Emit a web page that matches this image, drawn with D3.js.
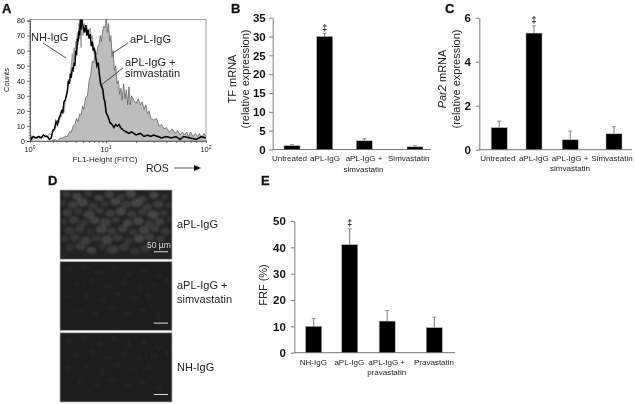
<!DOCTYPE html>
<html>
<head>
<meta charset="utf-8">
<title>aPL-IgG panels</title>
<style>
  html, body { margin: 0; padding: 0; background: #fff; }
  svg { display: block; filter: blur(0.35px); }
  text { font-family: "Liberation Sans", Arial, sans-serif; fill: #222; }
  .tick-bold text, .bold { font-weight: bold; fill: #111; }
  .leader { stroke: #222; stroke-width: 0.8; fill: none; }
  .domain, .tick line { stroke: #555; stroke-width: 0.8; }
</style>
<script src="https://d3js.org/d3.v7.min.js"></script>
</head>
<body>
<div id="chart"></div>
<script>

// ##### data #####

// panel A, flow cytometry histograms (FL1 value, counts)
var aplFl1 = [1.9,2.1,2.3,2.5,2.7,2.9,3.1,3.3,3.5,3.7,3.9,4.1,4.3,4.5,4.7,4.9,5.1,5.4,5.7,6,6.3,6.6,6.9,7.2,7.5,7.8,8.1,8.4,8.7,9,9.3,9.6,9.9,10,10.3,10.6,10.9,11.2,11.5,11.8,12.1,12.5,12.9,13.3,13.7,14.1,14.5,15,15.5,16,16.5,17,17.5,18,19,20,21,22,23,24,25,26,27,28,30,32,34,36,38,40,43,46,49,52,55,58,61,64,67,70,74,78,82,86,90,95,100];
var aplCounts = [0,1,0,2,2,3,3,6,6,10,11,15,13,18,17,23,21,29,30,40,44,53,52,60,57,63,64,70,66,72,76,75,78,88,72,78,66,70,56,60,47,50,38,40,31,35,27,38,28,34,24,36,24,30,27,25,28,24,26,21,24,18,20,15,14,15,10,11,8,9,6,8,5,7,4,6,4,6,3,6,3,5,3,5,2,5,3];

var nhFl1 = [1,1.1,1.2,1.3,1.4,1.5,1.6,1.7,1.8,1.9,2,2.1,2.2,2.3,2.4,2.5,2.6,2.7,2.8,2.9,3,3.1,3.2,3.3,3.4,3.5,3.6,3.7,3.8,3.9,4,4.1,4.2,4.3,4.4,4.5,4.6,4.7,4.8,4.9,5,5.2,5.4,5.6,5.8,6,6.2,6.4,6.6,6.8,7,7.3,7.6,7.9,8.2,8.5,8.8,9.1,9.4,9.7,10,10.5,11,11.5,12,13,14,15,16,18,20,23,26,30,35,40,50,60,70,85,100];
var nhCounts = [3,1,2,1,3,2,4,3,5,4,6,7,10,14,12,17,16,21,19,26,30,33,41,38,46,50,58,48,62,54,66,60,72,64,78,68,74,62,80,76,70,78,74,77,70,72,75,68,70,62,58,56,48,50,42,38,34,30,26,24,20,16,13,11,9,10,8,6,5,6,4,5,3,4,2,3,2,3,1,2,2];

var simFl1 = [1,1.04,1.1,1.2,1.3,1.4,1.5,1.6,1.7,1.8,1.9,2,2.1,2.2,2.3,2.4,2.5,2.6,2.7,2.8,2.9,3,3.1,3.2,3.3,3.4,3.5,3.6,3.7,3.8,3.9,4,4.1,4.2,4.3,4.4,4.5,4.6,4.7,4.8,4.9,5,5.2,5.4,5.6,5.8,6,6.2,6.4,6.6,6.8,7,7.3,7.6,7.9,8.2,8.5,8.8,9.1,9.4,9.7,10,10.5,11,11.5,12,12.5,13,13.5,14,15,16,17,18,20,22,24,26,28,30,33,36,40,45,50,55,60,70,80,90,100];
var simCounts = [5,1,3,2,3,2,4,3,3,1,2,7,8,13,11,15,17,20,19,26,27,30,33,40,38,44,43,48,47,52,50,60,57,68,66,73,70,82,74,84,78,76,72,77,70,74,68,71,63,66,60,62,56,50,52,44,38,36,34,28,26,19,16,12,11,9,11,10,11,9,7,6,5,6,4,5,3,4,3,4,3,2,3,2,3,1,3,2,1,3,2];

// panel B
var catB = ["Untreated", "aPL-IgG", "aPL-IgG +", "Simvastatin"];
var tfMrna = [1.0, 30, 2.3, 0.7];
var tfErr = [0.3, 0.8, 0.6, 0.3];
var tfTicks = [0, 5, 10, 15, 20, 25, 30, 35];

// panel C
var catC = ["Untreated", "aPL-IgG", "aPL-IgG +", "Simvastatin"];
var par2Mrna = [1.0, 5.3, 0.45, 0.72];
var par2Err = [0.3, 0.33, 0.4, 0.33];
var par2Ticks = [0, 2, 4, 6];

// panel E
var catE = ["NH-IgG", "aPL-IgG", "aPL-IgG +", "Pravastatin"];
var frf = [10, 41, 12, 9.5];
var frfErr = [3, 6, 4, 4];
var frfTicks = [0, 10, 20, 30, 40, 50];

// panel D, cell nuclei seen in the micrographs (0-340 x 0-210 image units)
var cellsX = [20,52,85,118,150,185,215,250,285,318,10,38,68,100,135,168,200,232,265,298,330,22,55,88,120,152,185,218,250,282,315,12,42,72,105,138,170,205,238,270,302,332,28,60,92,125,158,190,222,255,288,320,15,45,78,110,142,175,208,240,272,305,30,62,95,128,160,195,228,260];
var cellsY = [14,20,12,24,14,22,12,28,16,22,40,46,38,50,42,36,44,40,52,44,48,70,66,76,64,72,66,74,68,76,70,98,92,102,94,100,92,102,96,104,98,92,124,120,130,122,128,120,130,124,118,128,150,146,156,148,154,148,158,150,146,152,178,174,186,176,184,176,188,180];
var cellsR = [10,12,9,11,12,10,13,11,12,9,9,12,14,11,10,13,12,14,11,13,9,12,11,14,10,12,13,12,11,14,10,9,13,11,12,14,10,12,13,11,12,8,13,12,10,14,11,12,10,13,11,12,10,12,13,11,14,12,10,13,12,11,11,13,12,10,14,12,11,13];
var cellsShade = ["#4a4a4a","#555","#454545","#505050","#4d4d4d","#484848","#585858","#4a4a4a","#555","#404040","#3e3e3e","#505050","#5a5a5a","#4c4c4c","#444","#555","#4a4a4a","#5c5c5c","#4d4d4d","#505050","#3e3e3e","#484848","#444","#555","#4a4a4a","#505050","#5a5a5a","#4c4c4c","#454545","#5c5c5c","#484848","#3a3a3a","#4c4c4c","#444","#555","#505050","#454545","#585858","#5c5c5c","#4a4a4a","#505050","#3a3a3a","#444","#4a4a4a","#3e3e3e","#555","#4c4c4c","#505050","#444","#5a5a5a","#4d4d4d","#484848","#3e3e3e","#484848","#505050","#444","#5a5a5a","#4c4c4c","#444","#5c5c5c","#505050","#484848","#3c3c3c","#4a4a4a","#505050","#3e3e3e","#4c4c4c","#484848","#3e3e3e","#444"];
var faintX = [30,75,120,165,210,255,300,50,100,150,195,240,285,325,25,80,130,175,225,270,60,110,160,205,250,300];
var faintY = [25,18,35,20,40,30,45,70,60,78,65,80,72,60,110,105,120,100,115,108,150,160,145,165,150,170];

var panelsD = ["aPL-IgG", "aPL-IgG +", "NH-IgG"];

// ##### page #####

var svg = d3.select("#chart").append("svg")
    .attr("width", 635)
    .attr("height", 404);

function letter(s, x, y) {
  svg.append("text").attr("class", "bold")
      .attr("x", x).attr("y", y)
      .style("font-size", "13px")
      .style("stroke", "#111").style("stroke-width", 0.3)
      .style("fill", "#111")
      .text(s);
}
letter("A", 2, 13);
letter("B", 231, 13);
letter("C", 445, 13);
letter("D", 48, 185);
letter("E", 261, 185);

// ##### panel A #####

var xA = d3.scaleLog().domain([1, 10, 100]).range([30, 106, 206]);
var yA = d3.scaleLinear().domain([0, 80]).range([141, 20.5]);

var clip = svg.append("clipPath").attr("id", "frameA");
clip.append("rect").attr("x", 30).attr("y", 19).attr("width", 176).attr("height", 122);

var lineA = d3.line()
    .x(function(d) { return xA(d[0]); })
    .y(function(d) { return yA(d[1]); });

var areaA = d3.area()
    .x(function(d) { return xA(d[0]); })
    .y0(yA(0))
    .y1(function(d) { return yA(d[1]); });

var apl = d3.zip(aplFl1, aplCounts);
var nh = d3.zip(nhFl1, nhCounts);
var sim = d3.zip(simFl1, simCounts);

var gA = svg.append("g").attr("clip-path", "url(#frameA)");
gA.append("path").datum(apl).attr("fill", "#bdbdbd").attr("d", areaA);
gA.append("path").datum(apl).attr("fill", "none")
    .attr("stroke", "#555").attr("stroke-width", 0.7).attr("d", lineA);
gA.append("path").datum(nh).attr("fill", "none")
    .attr("stroke", "#999").attr("stroke-width", 1).attr("d", lineA);
gA.append("path").datum(sim).attr("fill", "none")
    .attr("stroke", "#000").attr("stroke-width", 1.5).attr("d", lineA);

// frame
svg.append("rect").attr("x", 30).attr("y", 19.5).attr("width", 176).attr("height", 121.5)
    .attr("fill", "none").attr("stroke", "#777").attr("stroke-width", 0.7);

// minor and major ticks
var minorX = [];
[1, 10].forEach(function(dec) {
  d3.range(1, 10).forEach(function(m) { minorX.push(m * dec); });
});
minorX.push(100);

svg.append("g")
    .attr("transform", "translate(0,141)")
    .call(d3.axisBottom(xA).tickValues(minorX).tickSize(2).tickFormat(""));

var axisYA = svg.append("g")
    .attr("transform", "translate(30,0)")
    .call(d3.axisLeft(yA).tickValues(d3.range(0, 81, 2)).tickSize(1.5).tickFormat(""));
axisYA.selectAll(".tick line").style("stroke-width", 0.5);

svg.append("g")
    .attr("transform", "translate(30,0)")
    .call(d3.axisLeft(yA).tickValues(d3.range(0, 81, 10)).tickSize(3).tickPadding(2))
    .call(function(g) {
      g.selectAll("text").style("font-size", "7.5px").style("font-family", "Liberation Sans").style("fill", "#222");
    });

[0, 1, 2].forEach(function(e) {
  var t = svg.append("text")
      .attr("x", xA(Math.pow(10, e)))
      .attr("y", 152)
      .attr("text-anchor", "middle")
      .style("font-size", "7.5px");
  t.append("tspan").text("10");
  t.append("tspan").attr("dy", -3).style("font-size", "5px").text(e);
});

svg.append("text")
    .attr("x", 105).attr("y", 162).attr("text-anchor", "middle")
    .style("font-size", "8px").text("FL1-Height (FITC)");

svg.append("text")
    .attr("transform", "translate(9,80) rotate(-90)")
    .attr("text-anchor", "middle")
    .style("font-size", "7.5px").text("Counts");

svg.append("text").attr("x", 146).attr("y", 172).style("font-size", "10.5px").text("ROS");
svg.append("line").attr("x1", 174).attr("x2", 195).attr("y1", 168).attr("y2", 168)
    .attr("stroke", "#444").attr("stroke-width", 0.9);
svg.append("path").attr("d", "M194,165L201,168L194,171Z").attr("fill", "#000");

// labels and their leader lines
svg.append("text").attr("x", 31).attr("y", 41).style("font-size", "11px").text("NH-IgG");
svg.append("text").attr("x", 130).attr("y", 43).style("font-size", "11px").text("aPL-IgG");
svg.append("text").attr("x", 125).attr("y", 66).style("font-size", "11px").text("aPL-IgG +");
svg.append("text").attr("x", 125).attr("y", 77).style("font-size", "11px").text("simvastatin");

svg.append("line").attr("class", "leader").attr("x1", 43).attr("y1", 43).attr("x2", 66).attr("y2", 58);
svg.append("line").attr("class", "leader").attr("x1", 128).attr("y1", 43).attr("x2", 113).attr("y2", 53);
svg.append("line").attr("class", "leader").attr("x1", 123).attr("y1", 68).attr("x2", 100).attr("y2", 86);

// ##### bar panels #####

function barPanel(o) {
  var x = d3.scaleOrdinal().domain(o.cats).range(o.centers);
  var y = d3.scaleLinear().domain(o.domain).range([o.y0, o.y1]);
  var g = svg.append("g");

  // error bars first so the bar covers the lower end
  g.selectAll(".err").data(o.values).enter().append("line")
      .attr("x1", function(d, i) { return x(o.cats[i]); })
      .attr("x2", function(d, i) { return x(o.cats[i]); })
      .attr("y1", function(d) { return y(d); })
      .attr("y2", function(d, i) { return y(d + o.errs[i]); })
      .attr("stroke", "#777").attr("stroke-width", 1);
  g.selectAll(".cap").data(o.values).enter().append("line")
      .attr("x1", function(d, i) { return x(o.cats[i]) - 2; })
      .attr("x2", function(d, i) { return x(o.cats[i]) + 2; })
      .attr("y1", function(d, i) { return y(d + o.errs[i]); })
      .attr("y2", function(d, i) { return y(d + o.errs[i]); })
      .attr("stroke", "#777").attr("stroke-width", 0.8);

  g.selectAll("rect").data(o.values).enter().append("rect")
      .attr("x", function(d, i) { return x(o.cats[i]) - 8; })
      .attr("width", 16)
      .attr("y", function(d) { return y(d); })
      .attr("height", function(d) { return y(0) - y(d); })
      .attr("fill", "#000")
      .attr("stroke", "#aaa").attr("stroke-width", 0.5);

  var axisY = d3.axisLeft(y).tickValues(o.ticks).tickSize(3.5).tickPadding(o.pad)
      .tickSizeOuter(0).tickFormat(d3.format("d"));
  g.append("g").attr("class", "tick-bold")
      .attr("transform", "translate(" + o.x0 + ",0)")
      .call(axisY)
      .call(function(a) {
        a.selectAll("text").style("font-size", o.tickFont).style("font-family", "Liberation Sans");
      });

  g.append("line")
      .attr("x1", o.x0).attr("x2", o.x1)
      .attr("y1", y(0)).attr("y2", y(0))
      .attr("stroke", "#555").attr("stroke-width", 0.8);

  // category labels, centred by hand because the spacing is uneven
  o.cats.forEach(function(c, i) {
    g.append("text")
        .attr("x", o.labelX[i]).attr("y", y(0) + o.labelDy)
        .attr("text-anchor", "middle")
        .style("font-size", "8px").text(c);
  });
  g.append("text")
      .attr("x", o.secondX).attr("y", y(0) + o.labelDy + 10.5)
      .attr("text-anchor", "middle")
      .style("font-size", "8px").text(o.second);

  // double dagger over the significant bar
  g.append("text")
      .attr("x", x(o.cats[1])).attr("y", o.daggerY)
      .attr("text-anchor", "middle")
      .style("font-size", "9px").style("font-weight", "bold").text("\u2021");

  return g;
}

barPanel({
  cats: catB, values: tfMrna, errs: tfErr, ticks: tfTicks,
  domain: [0, 35], y0: 149.5, y1: 17.7, x0: 272.7, x1: 431,
  centers: [292, 324.7, 364.3, 415],
  labelX: [289.5, 325, 364, 408.7], labelDy: 11.5,
  second: "simvastatin", secondX: 363.5, daggerY: 31,
  pad: 3.5, tickFont: "11.5px"
});

barPanel({
  cats: catC, values: par2Mrna, errs: par2Err, ticks: par2Ticks,
  domain: [0, 6], y0: 149.7, y1: 17.7, x0: 479.3, x1: 632,
  centers: [499.2, 534, 570.2, 614],
  labelX: [497.8, 533.8, 570, 612], labelDy: 11,
  second: "simvastatin", secondX: 570, daggerY: 23,
  pad: 5, tickFont: "11.5px"
});

barPanel({
  cats: catE, values: frf, errs: frfErr, ticks: frfTicks,
  domain: [0, 50], y0: 352.7, y1: 221, x0: 294.3, x1: 455,
  centers: [313.7, 349.7, 387.2, 434.3],
  labelX: [313.3, 349.3, 386.7, 434], labelDy: 12,
  second: "pravastatin", secondX: 386.7, daggerY: 226,
  pad: 5, tickFont: "11.5px"
});

// y axis titles
function yTitle(x, y, first, size) {
  var t = svg.append("text")
      .attr("transform", "translate(" + x + "," + y + ") rotate(-90)")
      .attr("text-anchor", "middle")
      .style("font-size", size);
  first(t);
}

yTitle(236, 79, function(t) { t.text("TF mRNA"); }, "11px");
yTitle(249, 79, function(t) { t.text("(relative expression)"); }, "11px");
yTitle(445.5, 79, function(t) {
  t.append("tspan").style("font-style", "italic").text("Par2");
  t.append("tspan").text(" mRNA");
}, "11px");
yTitle(460, 79, function(t) { t.text("(relative expression)"); }, "11px");
yTitle(267, 285, function(t) { t.text("FRF (%)"); }, "11px");

// ##### panel D #####

var imgX = d3.scaleLinear().domain([0, 340]).range([60, 172]);
var imgH = d3.scaleLinear().domain([0, 210]).range([0, 68]);
var panelTop = d3.scaleBand().domain(panelsD).range([190, 402]).paddingInner(0.03);

var blur = svg.append("filter").attr("id", "soft")
    .attr("x", "-20%").attr("y", "-20%").attr("width", "140%").attr("height", "140%");
blur.append("feGaussianBlur").attr("stdDeviation", 0.8);

panelsD.forEach(function(name, idx) {
  var top = panelTop(name);
  var h = panelTop.bandwidth();
  var clipId = "img" + idx;
  svg.append("clipPath").attr("id", clipId)
    .append("rect").attr("x", 60).attr("y", top).attr("width", 112).attr("height", h);

  var g = svg.append("g").attr("clip-path", "url(#" + clipId + ")");
  g.append("rect").attr("x", 60).attr("y", top).attr("width", 112).attr("height", h)
      .attr("fill", idx == 0 ? "#222" : "#1e1e1e");

  var cells = g.append("g").attr("filter", "url(#soft)");
  if (idx == 0) {
    cells.selectAll("ellipse").data(cellsX).enter().append("ellipse")
        .attr("cx", function(d) { return imgX(d); })
        .attr("cy", function(d, i) { return top + imgH(cellsY[i]); })
        .attr("rx", function(d, i) { return imgH(cellsR[i]) * 1.25; })
        .attr("ry", function(d, i) { return imgH(cellsR[i]) * 0.95; })
        .attr("fill", function(d, i) { return cellsShade[i]; })
        .attr("fill-opacity", 0.62);
  } else {
    cells.selectAll("ellipse").data(faintX).enter().append("ellipse")
        .attr("cx", function(d) { return imgX(d); })
        .attr("cy", function(d, i) { return top + imgH(faintY[i]); })
        .attr("rx", 4).attr("ry", 3)
        .attr("fill", "#232323");
  }

  // scale bar
  g.append("line")
      .attr("x1", imgX(285)).attr("x2", imgX(328))
      .attr("y1", top + h - 7.5).attr("y2", top + h - 7.5)
      .attr("stroke", "#ddd").attr("stroke-width", 1);

  svg.append("rect").attr("x", 60).attr("y", top).attr("width", 112).attr("height", h)
      .attr("fill", "none").attr("stroke", "#aaa").attr("stroke-width", 0.8);
});

var t0 = panelTop(panelsD[0]);
svg.append("text").attr("x", 147).attr("y", t0 + 58)
    .style("font-size", "8.5px").style("fill", "#ddd").text("50 \u00b5m");

svg.append("text").attr("x", 177).attr("y", 228).style("font-size", "11px").text("aPL-IgG");
svg.append("text").attr("x", 177).attr("y", 289).style("font-size", "11px").text("aPL-IgG +");
svg.append("text").attr("x", 177).attr("y", 303).style("font-size", "11px").text("simvastatin");
svg.append("text").attr("x", 177).attr("y", 371).style("font-size", "11px").text("NH-IgG");

</script>
</body>
</html>
